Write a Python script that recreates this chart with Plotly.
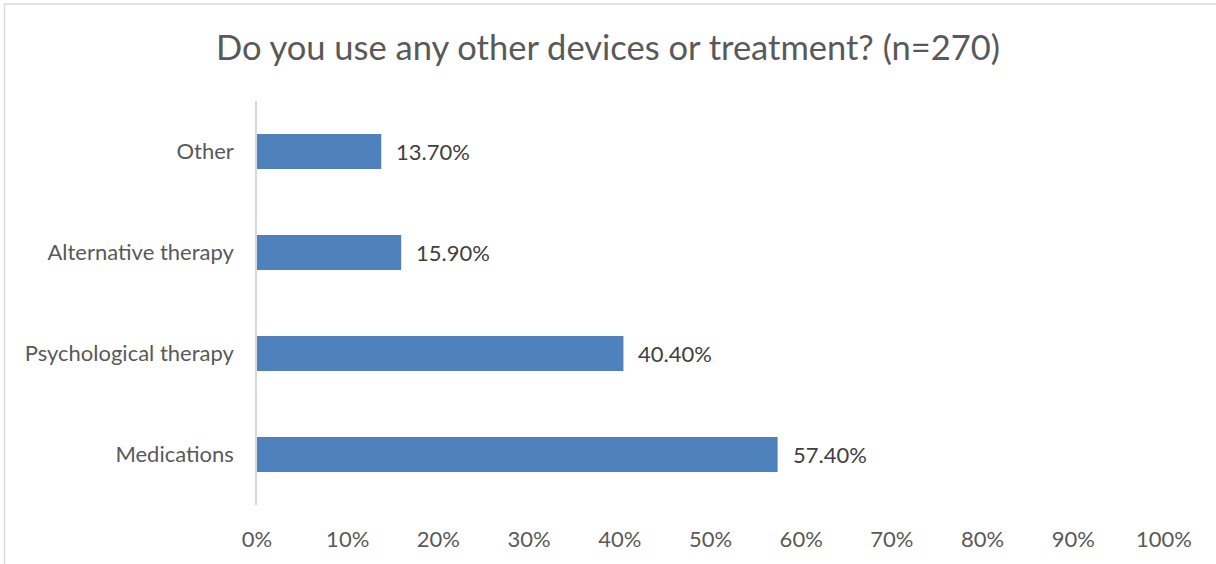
import plotly.graph_objects as go

# Survey responses (share of respondents, %)
categories = ["Medications", "Psychological therapy", "Alternative therapy", "Other"]
values = [57.4, 40.4, 15.9, 13.7]
tick_vals = [0, 10, 20, 30, 40, 50, 60, 70, 80, 90, 100]
tick_text = [f"{t}%" for t in tick_vals]

W, H = 1216, 564
L, R, T, B = 257, 52, 101, 57
plot_w = W - L - R
plot_h = H - T - B

FONT = "Lato"
GREY = "#595959"
LABEL_SIZE = 22

fig = go.Figure(
    go.Bar(
        y=categories,
        x=values,
        orientation="h",
        marker=dict(color="#4F81BD", line=dict(width=0)),
        hoverinfo="skip",
    )
)

# value labels to the right of each bar
for cat, v in zip(categories, values):
    fig.add_annotation(
        x=v, y=cat, xref="x", yref="y",
        text=f"{v:.2f}%", showarrow=False,
        xanchor="left", yanchor="middle", xshift=13,
        font=dict(family=FONT, size=LABEL_SIZE, color="#404040"),
    )

# chart frame
def px_x(px):
    return (px - L) / plot_w

def px_y(py):
    return (H - B - py) / plot_h

fig.add_shape(
    type="rect", xref="paper", yref="paper",
    x0=px_x(4.5), x1=px_x(W + 20), y0=px_y(3.5), y1=px_y(H + 20),
    line=dict(color="#d9d9d9", width=1.5), fillcolor="rgba(0,0,0,0)",
    layer="below",
)

fig.update_layout(
    width=W, height=H,
    margin=dict(l=L, r=R, t=T, b=B),
    paper_bgcolor="white", plot_bgcolor="white",
    bargap=0.655,
    showlegend=False,
    title=dict(
        text="Do you use any other devices or treatment? (n=270)",
        x=0.5, xanchor="center", xref="container",
        y=1 - 48 / H, yanchor="middle", yref="container",
        font=dict(family=FONT, size=34.5, color=GREY),
    ),
    font=dict(family=FONT, color=GREY),
)

fig.update_xaxes(
    range=[0, 100],
    tickvals=tick_vals, ticktext=tick_text,
    showgrid=False, zeroline=False, showline=False,
    ticks="", ticklabelstandoff=19,
    tickfont=dict(family=FONT, size=LABEL_SIZE, color=GREY),
    fixedrange=True,
)
fig.update_yaxes(
    categoryorder="array", categoryarray=categories,
    range=[-0.5, 3.5],
    showgrid=False, zeroline=False,
    showline=True, linecolor="#d9d9d9", linewidth=1.5,
    ticks="", ticklabelstandoff=17,
    tickfont=dict(family=FONT, size=LABEL_SIZE, color=GREY),
    fixedrange=True,
)

fig.write_html("out.html")
